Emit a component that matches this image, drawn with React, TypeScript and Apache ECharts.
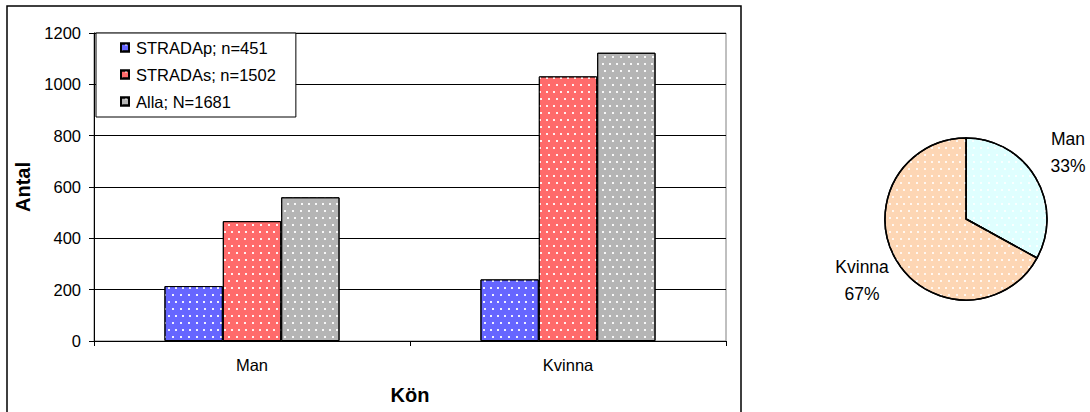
import React, { useEffect, useRef } from "react";
import * as echarts from "echarts";

const categories = ["Man", "Kvinna"];
const seriesNames = ["STRADAp; n=451", "STRADAs; n=1502", "Alla; N=1681"];
const stradapValues = [214, 240];
const stradasValues = [467, 1031];
const allaValues = [560, 1123];
const yTicks = { min: 0, max: 1200, interval: 200 };
const pieCategories = ["Man", "Kvinna"];
const pieValues = [33, 67];

const FONT = 'Arial, "Liberation Sans", sans-serif';

const dots = (opacity: number) => ({
  symbol: "rect",
  symbolSize: 1,
  color: `rgba(255,255,255,${opacity})`,
  dashArrayX: [
    [2, 5],
    [0, 3.5, 2, 1.5],
  ],
  dashArrayY: [2, 5],
  rotation: 0,
});

export default function App() {
  const ref = useRef<HTMLDivElement>(null);
  useEffect(() => {
    document.body.style.margin = "0";
    const chart = echarts.init(ref.current!, null, { renderer: "svg" });
    const barColors = ["#6666ff", "#ff6b6b", "#b5b5b5"];
    const barData = [stradapValues, stradasValues, allaValues];
    chart.setOption({
      animation: false,
      textStyle: { fontFamily: FONT, color: "#000" },
      graphic: [
        {
          type: "rect",
          shape: { x: 7, y: 6, width: 734, height: 420 },
          style: { fill: "none", stroke: "#000", lineWidth: 1.5 },
          z: -1,
        },
      ],
      legend: {
        orient: "vertical",
        left: 96,
        top: 33,
        backgroundColor: "#fff",
        borderColor: "#000",
        borderWidth: 1,
        borderRadius: 0,
        padding: [6, 20, 7, 24],
        itemGap: 10,
        itemWidth: 8,
        itemHeight: 8,
        icon: "rect",
        textStyle: { fontSize: 16.5, color: "#000", fontFamily: FONT, padding: [0, 0, 0, 2] },
        data: seriesNames,
        z: 10,
      },
      grid: {
        left: 94,
        top: 33,
        right: 364,
        bottom: 71,
        show: true,
        borderColor: "#808080",
        borderWidth: 1,
      },
      xAxis: {
        type: "category",
        data: categories,
        name: "Kön",
        nameLocation: "middle",
        nameGap: 44,
        nameTextStyle: { fontSize: 20, fontWeight: "bold", color: "#000", fontFamily: FONT },
        axisLine: { show: true, lineStyle: { color: "#000", width: 1 } },
        axisTick: { show: true, length: 5, lineStyle: { color: "#000" } },
        axisLabel: { fontSize: 16.5, color: "#000", margin: 15, fontFamily: FONT },
      },
      yAxis: {
        type: "value",
        min: yTicks.min,
        max: yTicks.max,
        interval: yTicks.interval,
        name: "Antal",
        nameLocation: "middle",
        nameGap: 59,
        nameTextStyle: { fontSize: 20, fontWeight: "bold", color: "#000", fontFamily: FONT },
        axisLine: { show: true, lineStyle: { color: "#000", width: 1 } },
        axisTick: { show: true, length: 5, lineStyle: { color: "#000" } },
        axisLabel: {
          fontSize: 16.5,
          color: "#000",
          margin: 13,
          fontFamily: FONT,
          formatter: (v: number) => String(v),
        },
        splitLine: { show: true, lineStyle: { color: "#000", width: 1 } },
      },
      series: [
        ...seriesNames.map((name, i) => ({
          type: "bar",
          name,
          data: barData[i],
          barGap: "0%",
          barCategoryGap: "44.6%",
          itemStyle: {
            color: barColors[i],
            borderColor: "#000",
            borderWidth: 1,
            decal: dots(0.9),
          },
        })),
        {
          type: "pie",
          center: [966, 219],
          radius: 81,
          startAngle: 90,
          clockwise: true,
          data: pieCategories.map((c, i) => ({ name: c, value: pieValues[i] })),
          color: ["#dfffff", "#fdd6b4"],
          itemStyle: {
            borderColor: "#000",
            borderWidth: 1.5,
            decal: dots(0.8),
          },
          label: {
            show: true,
            position: "outside",
            formatter: "{b}\n{d}%",
            fontSize: 17.5,
            lineHeight: 27,
            color: "#000",
            fontFamily: FONT,
            align: "center",
            overflow: "none",
            width: 200,
          },
          labelLine: { show: false, length: 20, length2: 0 },
          labelLayout: (p: any) =>
            p.dataIndex === 0
              ? { align: "center", dx: 10, dy: -15 }
              : { align: "center", dx: -12, dy: 10 },
          emphasis: { disabled: true },
        },
      ],
    });
    return () => chart.dispose();
  }, []);
  return <div ref={ref} style={{ width: 1090, height: 412 }} />;
}
